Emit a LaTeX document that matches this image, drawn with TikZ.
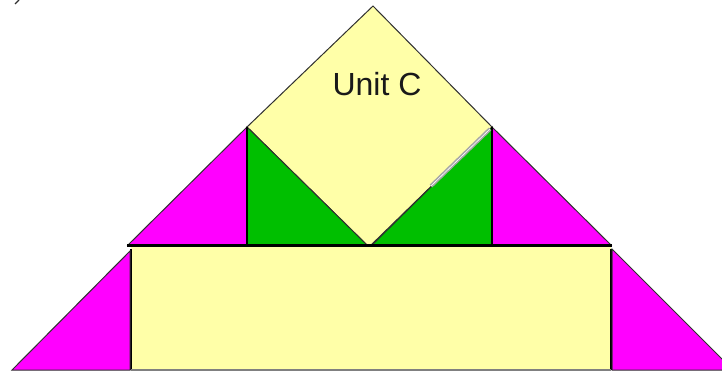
\documentclass[tikz,border=0pt]{standalone}
\usepackage{fontspec}
\setmainfont{Liberation Sans}
\definecolor{pyellow}{HTML}{FFFFA8}
\definecolor{pmag}{HTML}{FF00FF}
\definecolor{pgreen}{HTML}{00BF00}
\definecolor{edge}{HTML}{303030}
\begin{document}
\begin{tikzpicture}[x=1pt,y=-1pt,
  piece/.style={draw=edge,line width=1pt,line join=miter},
  divider/.style={draw=black,line width=1.8pt},
  baseline/.style={draw=black,line width=3.2pt}]
\useasboundingbox (0,0) rectangle (722,372);
\begin{scope}
\clip (0,0) rectangle (722,372);
% diamond (Unit C)
\path[piece,fill=pyellow] (373,6) -- (247,127) -- (369,247) -- (492,127) -- cycle;
% green triangles
\path[piece,fill=pgreen] (247,127) -- (247,245) -- (367,245) -- cycle;
\path[piece,fill=pgreen] (372,245) -- (492,127) -- (492,245) -- cycle;
% upper magenta triangles
\path[piece,fill=pmag] (128,245) -- (247,127) -- (247,245) -- cycle;
\path[piece,fill=pmag] (492,127) -- (611,245) -- (492,245) -- cycle;
% dividers
\draw[divider] (247,127) -- (247,245);
\draw[divider] (492,127) -- (492,245);
% artefact line on diamond edge
\draw[line width=1.6pt,draw=gray!70,double=white,double distance=0.6pt] (431,186) -- (490,129);
% bottom rectangle
\path[fill=pyellow] (131,247) rectangle (611,369);
\draw[draw=black,line width=1.8pt] (131,249) -- (131,370);
\draw[draw=black,line width=1.8pt] (611,249) -- (611,370);
\draw[draw=gray,line width=1.2pt] (131,370) -- (611,370);
% bottom magenta triangles
\path[piece,fill=pmag] (12,370) -- (130,251) -- (130,370) -- cycle;
\path[piece,fill=pmag] (612,249) -- (733,370) -- (612,370) -- cycle;
% thick baseline
\draw[baseline] (127,245.5) -- (612,245.5);
% stray mark
\draw[draw=edge,line width=1.4pt] (15,4) -- (19,0);
\end{scope}
\node[font=\fontsize{32}{32}\selectfont,text=black!90] (unitc) at (377,84) {Unit C};
\end{tikzpicture}
\end{document}
